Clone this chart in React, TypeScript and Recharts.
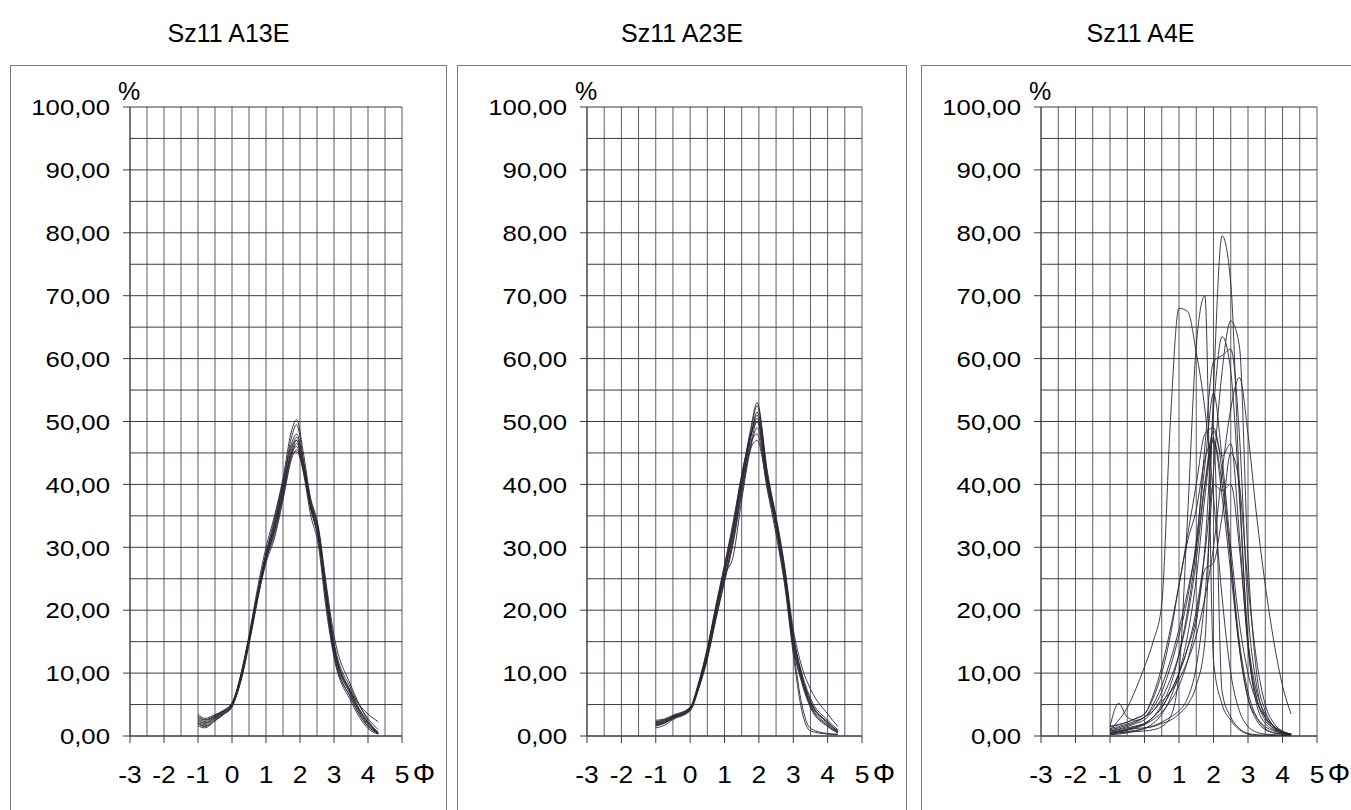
import React from 'react';
import { LineChart, Line, XAxis, YAxis, CartesianGrid } from 'recharts';

// phi grid points for each sample set
const a13eX = [-1, -0.8, -0.5, -0.25, 0, 0.25, 0.5, 0.75, 1, 1.25, 1.5, 1.75, 1.9, 2.1, 2.3, 2.55, 2.75, 3, 3.5, 4, 4.3];
const a23eX = [-1, -0.75, -0.5, 0, 0.25, 0.5, 0.75, 1, 1.25, 1.5, 1.75, 1.95, 2.25, 2.5, 2.75, 3, 3.25, 3.5, 4, 4.3];
const a4eX = [-1, -0.75, -0.5, -0.25, 0, 0.25, 0.5, 0.75, 1, 1.25, 1.5, 1.75, 2, 2.25, 2.5, 2.75, 3, 3.25, 3.5, 3.75, 4, 4.25];

// Sz11 A13E
const a13eCurves: number[][] = [
    [3.5, 2.8, 3.4, 4.0, 5.0, 9.5, 16, 23.5, 30, 35, 41, 48.5, 50.3, 45, 38, 32, 22, 13, 6, 1.5, 0.4],
    [2.8, 2.3, 3.2, 3.9, 5.2, 9.0, 15.5, 22.5, 29, 34, 40, 47.5, 49.5, 44, 37, 31, 22.5, 13.5, 6.5, 1.8, 0.5],
    [2.2, 1.8, 2.8, 3.6, 4.8, 8.5, 14.5, 21.5, 28, 32.5, 38.5, 45.5, 47.5, 43.5, 37.5, 32.5, 24, 14.5, 7, 2.2, 0.6],
    [1.6, 1.3, 2.4, 3.4, 4.6, 8.8, 15, 22, 28.5, 33, 39, 45, 47, 43, 36.5, 31, 23, 14, 6.5, 2, 0.4],
    [2.6, 2.1, 3.0, 3.8, 5.0, 9.2, 15.2, 22, 28, 32, 38, 44.5, 46.5, 42.5, 37, 32.5, 24.5, 15, 7.5, 2.8, 1.0],
    [3.0, 2.5, 3.3, 4.1, 5.3, 9.6, 15.8, 22.8, 29, 33.5, 39.5, 45, 46, 42, 36.5, 31.5, 23.5, 14, 7, 3.5, 2.3],
    [1.9, 1.5, 2.5, 3.5, 4.7, 8.6, 14.8, 21.8, 27.5, 31.5, 37.5, 44, 45.5, 43, 38, 33, 25, 16, 8, 2.5, 0.5],
    [2.4, 2.0, 2.9, 3.7, 4.9, 8.9, 15, 22.2, 28.5, 33.5, 40, 46, 47, 42, 35.5, 30, 21, 12.5, 5.5, 1.2, 0.3],
    [2.0, 1.6, 2.6, 3.5, 4.8, 9.0, 15.3, 22.5, 29, 34.5, 40.5, 46.5, 48, 43.5, 37, 31.5, 22.5, 13, 6, 1.6, 0.4],
    [3.2, 2.6, 3.1, 3.9, 5.1, 9.3, 15.6, 22.3, 28.2, 32.8, 38.8, 44.8, 45.2, 42.2, 37.2, 32.2, 23.2, 14.2, 6.8, 2.2, 0.5],
];

// Sz11 A23E
const a23eCurves: number[][] = [
    [1.6, 2.0, 2.8, 4.2, 8.2, 13.5, 20, 26.5, 33, 41, 48.5, 53, 41, 33, 24.5, 14, 8.5, 4.5, 1.5, 0.5],
    [2.2, 2.5, 3.1, 4.4, 8.0, 13.2, 19.8, 26, 32.5, 40.5, 48, 52.5, 42, 34.5, 26.5, 16, 9.5, 5.5, 2, 0.6],
    [1.9, 2.2, 2.9, 4.3, 7.8, 12.6, 19, 25, 31.5, 39.5, 47, 51.5, 41.5, 34, 26, 15.5, 9, 5, 1.8, 0.5],
    [2.5, 2.7, 3.3, 4.5, 8.3, 13.8, 20.5, 27, 33.5, 41.5, 47.5, 50.5, 40.5, 33.5, 25.5, 15, 9, 5.2, 2.2, 0.8],
    [1.3, 1.7, 2.6, 4.0, 7.5, 12.2, 18.5, 24.5, 30.5, 38.5, 46, 50, 40, 34, 26, 16, 10, 6, 2.5, 1.0],
    [2.0, 2.3, 3.0, 4.3, 8.0, 13.0, 19.5, 25.5, 28.5, 37.5, 45.5, 49, 39.5, 33, 25, 14.5, 8.5, 4.8, 1.6, 0.5],
    [1.7, 2.1, 2.9, 4.4, 8.4, 13.6, 20.2, 26.2, 32.8, 40.2, 46.5, 48, 39, 32, 24, 13, 4, 0.8, 0.3, 0.2],
    [2.3, 2.6, 3.2, 4.6, 8.6, 14.0, 20.8, 27.2, 34, 41.5, 47.5, 50, 41, 35, 27, 17, 11, 7.5, 3.5, 1.5],
    [1.8, 2.1, 2.8, 4.1, 7.6, 12.4, 18.8, 24.8, 31, 39, 45.5, 47, 39.5, 33.5, 25.5, 14, 5, 1.2, 0.4, 0.3],
    [2.1, 2.4, 3.0, 4.3, 8.1, 13.3, 19.7, 25.7, 32.2, 40.3, 47.3, 51, 40.8, 34.2, 26.2, 15.8, 9.6, 5.6, 2.2, 0.7],
];

// Sz11 A4E
const a4eCurves: number[][] = [
    [1.0, 2.5, 4.5, 7.5, 11, 15, 21, 50, 68, 67.5, 61, 52, 38, 22, 10, 4, 1.5, 0.6, 0.3, 0.2, 0.1, 0.1],
    [0.4, 0.5, 0.6, 0.7, 0.8, 1.0, 1.5, 3, 10, 35, 62, 70, 12, 5, 2.5, 1.0, 0.3, 0.1, 0.1, 0.1, 0.1, 0.1],
    [0.5, 0.8, 1.0, 1.2, 1.3, 1.5, 2.0, 2.5, 3.5, 5, 8, 15, 55, 79.5, 72, 40, 15, 5, 2, 1, 0.5, 0.3],
    [0.3, 0.5, 0.7, 0.9, 1.2, 1.6, 2.2, 3, 4, 6, 11, 22, 42, 58, 66, 62, 28, 10, 4, 1.5, 0.6, 0.3],
    [0.8, 1.0, 1.3, 1.6, 2.0, 3.0, 4.5, 7, 10, 14, 19, 30, 52, 63.5, 58, 38, 15, 6, 2.5, 1.2, 0.6, 0.3],
    [0.6, 0.8, 1.1, 1.5, 2.0, 3.0, 5, 8, 13, 20, 30, 46, 59.5, 60.5, 61.5, 48, 20, 8, 3, 1.2, 0.5, 0.3],
    [1.0, 1.3, 1.7, 2.2, 3.0, 4, 5.5, 7, 9, 12, 16, 22, 30, 42, 52, 57, 48, 35, 24, 15, 8, 3.5],
    [1.2, 1.5, 1.9, 2.4, 3.0, 4.5, 7, 11, 16, 22, 31, 43, 54.5, 44, 30, 18, 10, 5.5, 3, 1.5, 0.7, 0.3],
    [1.5, 1.8, 2.2, 2.8, 3.5, 6.5, 11, 17, 24, 32, 40, 48, 49, 42, 28, 14, 6, 3, 1.5, 0.8, 0.4, 0.2],
    [0.2, 0.3, 0.5, 0.8, 1.2, 2, 3.5, 6, 10, 16, 25, 38, 47.5, 7, 3, 1.2, 0.4, 0.2, 0.1, 0.1, 0.1, 0.1],
    [0.8, 1.1, 1.5, 2.0, 2.6, 4, 6, 9, 13, 19, 28, 40, 48.5, 44.5, 46.5, 32, 14, 6, 3, 1.4, 0.6, 0.3],
    [0.5, 0.7, 1.0, 1.4, 1.9, 3, 4.5, 7, 10, 14, 20, 29, 40, 39, 40, 30, 15, 7, 3.5, 1.6, 0.7, 0.3],
    [0.4, 0.6, 0.9, 1.3, 1.8, 2.6, 3.8, 5.5, 8, 12, 18, 26.5, 27.5, 35, 45, 40, 24, 12, 5, 2, 0.8, 0.3],
    [1.5, 5.2, 3.0, 2.5, 3.0, 5, 8, 12, 17, 23, 30, 40, 47, 40, 28, 15, 7, 3, 1.2, 0.5, 0.3, 0.2],
    [1.5, 1.8, 2.2, 2.8, 3.5, 6, 10, 16, 24, 31, 36, 44, 47, 38, 26, 14, 6, 2.5, 1.0, 0.5, 0.3, 0.2],
];

const xTicks = [-3, -2, -1, 0, 1, 2, 3, 4, 5];
const xGrid = [-3, -2.5, -2, -1.5, -1, -0.5, 0, 0.5, 1, 1.5, 2, 2.5, 3, 3.5, 4, 4.5, 5];
const yTicks = [0, 10, 20, 30, 40, 50, 60, 70, 80, 90, 100];
const yGrid = [0, 5, 10, 15, 20, 25, 30, 35, 40, 45, 50, 55, 60, 65, 70, 75, 80, 85, 90, 95, 100];

const panels = [
    { title: 'Sz11 A13E', xs: a13eX, curves: a13eCurves, left: 10, width: 437, yWidth: 120, right: 45 },
    { title: 'Sz11 A23E', xs: a23eX, curves: a23eCurves, left: 457, width: 450, yWidth: 130, right: 45 },
    { title: 'Sz11 A4E', xs: a4eX, curves: a4eCurves, left: 921, width: 439, yWidth: 120, right: 43 },
];

const TOP = 65;
const CHART_H = 760;
const INK = '#2d2633';
const GRID_H = '#3f3747';
const GRID_V = '#625a69';
const FONT = '"Liberation Sans", Arial, sans-serif';

const fmt = (v: number) => v.toFixed(2).replace('.', ',');

const YTick = ({ x, y, payload }: any) => (
    <g transform={`translate(${x},${y})`}>
        <text transform="scale(1.12,1)" textAnchor="end" dy="0.36em" fontSize={23} fontFamily={FONT} fill="#000">
            {fmt(payload.value)}
        </text>
    </g>
);

const XTick = ({ x, y, payload }: any) => (
    <g transform={`translate(${x},${y + 40})`}>
        <text transform="scale(1.1,1)" textAnchor="middle" fontSize={24} fontFamily={FONT} fill="#000">
            {payload.value}
        </text>
        {payload.value === 5 && (
            <text x={22} textAnchor="middle" fontSize={28} fontFamily={FONT} fill="#000">
                Φ
            </text>
        )}
    </g>
);

const Panel = ({ p }: { p: (typeof panels)[number] }) => {
    const rows = p.xs.map((x, i) => {
        const r: Record<string, number> = { x };
        p.curves.forEach((c, j) => {
            r['s' + j] = c[i];
        });
        return r;
    });
    const plotLeft = p.left + p.yWidth;

    return (
        <>
            <div
                style={{
                    position: 'absolute',
                    left: p.left,
                    width: p.width,
                    top: 21,
                    textAlign: 'center',
                    fontSize: 25,
                    lineHeight: '25px',
                    fontFamily: FONT,
                }}
            >
                {p.title}
            </div>
            <div
                style={{
                    position: 'absolute',
                    left: p.left,
                    top: TOP,
                    width: p.width,
                    height: CHART_H,
                    border: '1.5px solid #7a7a7a',
                    boxSizing: 'border-box',
                }}
            />
            <div
                style={{
                    position: 'absolute',
                    left: plotLeft - 12,
                    top: 79,
                    fontSize: 25,
                    lineHeight: '25px',
                    fontFamily: FONT,
                }}
            >
                %
            </div>
            <div style={{ position: 'absolute', left: p.left, top: TOP }}>
                <LineChart
                    width={p.width}
                    height={CHART_H}
                    data={rows}
                    margin={{ top: 42, right: p.right, bottom: 0, left: 0 }}
                >
                    <CartesianGrid stroke={GRID_V} horizontal={false} verticalValues={xGrid} />
                    <CartesianGrid stroke={GRID_H} vertical={false} horizontalValues={yGrid} />
                    <XAxis
                        dataKey="x"
                        type="number"
                        domain={[-3, 5]}
                        ticks={xTicks}
                        allowDataOverflow
                        height={89}
                        tickSize={7}
                        tickMargin={0}
                        tickLine={{ stroke: GRID_H }}
                        axisLine={{ stroke: GRID_H }}
                        tick={<XTick />}
                        interval={0}
                    />
                    <YAxis
                        type="number"
                        domain={[0, 100]}
                        ticks={yTicks}
                        width={p.yWidth}
                        tickSize={7}
                        tickMargin={13}
                        tickLine={{ stroke: GRID_H }}
                        axisLine={{ stroke: GRID_H }}
                        tick={<YTick />}
                        interval={0}
                    />
                    {p.curves.map((_c, j) => (
                        <Line
                            key={j}
                            dataKey={'s' + j}
                            type="monotone"
                            stroke={INK}
                            strokeWidth={0.9}
                            dot={false}
                            activeDot={false}
                            isAnimationActive={false}
                        />
                    ))}
                </LineChart>
            </div>
        </>
    );
};

export default function App() {
    return (
        <div
            style={{
                position: 'absolute',
                left: 0,
                top: 0,
                width: 1351,
                height: 810,
                overflow: 'hidden',
                background: '#fff',
            }}
        >
            {panels.map((p) => (
                <Panel key={p.title} p={p} />
            ))}
        </div>
    );
}
